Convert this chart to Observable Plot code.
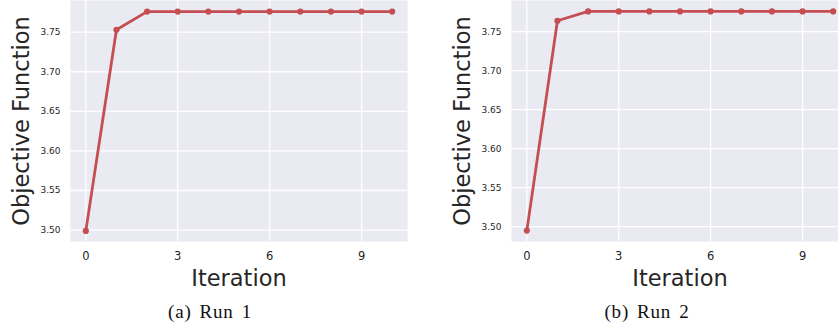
<!DOCTYPE html>
<html>
<head>
<meta charset="utf-8">
<script src="https://cdn.jsdelivr.net/npm/d3@7"></script>
<script src="https://cdn.jsdelivr.net/npm/@observablehq/plot@0.6"></script>
<style>
  html, body { margin: 0; padding: 0; background: #fff; }
  #wrap { position: relative; width: 838px; height: 332px; overflow: hidden; }
  .panel { position: absolute; top: 0; height: 290px; overflow: hidden; }
  .panel svg { max-width: none !important; display: block; }
  .cap { position: absolute; font-family: "Liberation Serif", "DejaVu Serif", serif; font-size: 19px; letter-spacing: 0.8px; word-spacing: 2.5px; color: #111; white-space: nowrap; transform: translateX(-50%); line-height: 1; }
</style>
</head>
<body>
<div id="wrap">
  <div class="panel" id="p1" style="left:0;width:420px"></div>
  <div class="panel" id="p2" style="left:420px;width:418px"></div>
  <div class="cap" style="left:210px;top:302px">(a) Run 1</div>
  <div class="cap" style="left:647px;top:302px">(b) Run 2</div>
</div>
<script>
const iterations = [0, 1, 2, 3, 4, 5, 6, 7, 8, 9, 10];
const run1 = [3.499, 3.753, 3.776, 3.776, 3.776, 3.776, 3.776, 3.776, 3.776, 3.776, 3.776];
const run2 = [3.495, 3.764, 3.776, 3.776, 3.776, 3.776, 3.776, 3.776, 3.776, 3.776, 3.776];
const xTicks = [0, 3, 6, 9];
const yTicks = [3.50, 3.55, 3.60, 3.65, 3.70, 3.75];
const yDomain1 = [3.4856, 3.790];
const yDomain2 = [3.481, 3.790];

const lineColor = "#C44E52";
const bg = "#EAEAF2";
const ink = "#262626";

function panel(values, yDomain, opts) {
  const data = iterations.map((it, i) => ({it, v: values[i]}));
  return Plot.plot({
    width: opts.width,
    height: 290,
    marginLeft: opts.marginLeft,
    marginRight: opts.marginRight,
    marginTop: 0,
    marginBottom: 49,
    style: {fontFamily: "DejaVu Sans", color: ink, background: "transparent", maxWidth: "none"},
    x: {domain: [-0.5, 10.5]},
    y: {domain: yDomain},
    marks: [
      Plot.frame({fill: bg, stroke: null}),
      Plot.gridX(xTicks, {stroke: "#fff", strokeOpacity: 1, strokeWidth: 1.3}),
      Plot.gridY(yTicks, {stroke: "#fff", strokeOpacity: 1, strokeWidth: 1.3}),
      Plot.axisX(xTicks, {tickSize: 0, tickPadding: 10, fontSize: 11.5, tickFormat: d => String(d),
        label: "Iteration", labelAnchor: "center", labelArrow: "none", labelOffset: 44}),
      Plot.axisY(yTicks, {tickSize: 0, tickPadding: 10, fontSize: 9, tickFormat: d3.format(".2f"),
        label: "Objective Function", labelAnchor: "center", labelArrow: "none", labelOffset: opts.labelOffset}),
      Plot.line(data, {x: "it", y: "v", stroke: lineColor, strokeWidth: 2.8}),
      Plot.dot(data, {x: "it", y: "v", fill: lineColor, r: 3.1})
    ]
  });
}

const c1 = panel(run1, yDomain1, {width: 420, marginLeft: 70, marginRight: 13, labelOffset: 57});
const c2 = panel(run2, yDomain2, {width: 441, marginLeft: 91, marginRight: 13, labelOffset: 57});
document.getElementById("p1").appendChild(c1);
document.getElementById("p2").appendChild(c2);
for (const c of [c1, c2]) {
  d3.select(c).selectAll("g[aria-label='x-axis label'] text, g[aria-label='y-axis label'] text")
    .style("font-size", "22.5px");
}
</script>
</body>
</html>
